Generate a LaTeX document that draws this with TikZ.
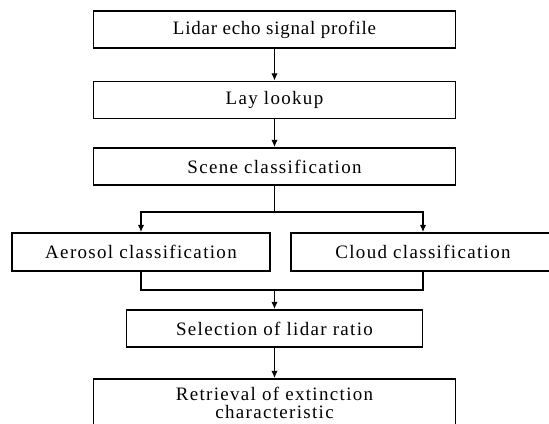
\documentclass[tikz,border=0pt]{standalone}
\usepackage{fontspec}
\setmainfont{Liberation Serif}
\newfontfamily\spacedfont[LetterSpace=7]{Liberation Serif}
\newfontfamily\narrowfont[LetterSpace=4]{Liberation Serif}
\usepackage{tikz}
\usetikzlibrary{arrows.meta,positioning}
\tikzstyle{stepbox} = [draw, line width=1.2pt, minimum height=0.925cm, inner sep=0pt, font=\fontsize{13.5}{14}\spacedfont]
\tikzstyle{arrow} = [-{Latex[length=1.8mm,width=1.6mm]}, line width=1pt]

\begin{document}
\begin{tikzpicture}
\useasboundingbox (0,0) rectangle (13.725,-10.6);
\node[stepbox, minimum width=9.05cm, font=\fontsize{13.5}{14}\narrowfont] at (6.8625,-0.7375) (echo) {Lidar echo signal profile};
\node[stepbox, minimum width=9.05cm] at (6.8625,-2.5) (lay) {Lay lookup};
\node[stepbox, minimum width=9.05cm] at (6.8625,-4.1625) (scene) {Scene classification};
\node[stepbox, minimum width=6.45cm, minimum height=0.95cm] at (3.525,-6.3) (aero) {Aerosol classification};
\node[stepbox, minimum width=6.6cm, minimum height=0.95cm] at (10.575,-6.3) (cloud) {Cloud classification};
\node[stepbox, minimum width=7.4cm] at (6.8625,-8.2125) (ratio) {Selection of lidar ratio};
\node[stepbox, minimum width=9.05cm, minimum height=1.2cm, align=center, font=\fontsize{13.5}{13}\spacedfont] at (6.8625,-10.075) (retr) {Retrieval of extinction\\characteristic};
\coordinate (split) at (6.8625,-5.3);
\coordinate (join) at (6.8625,-7.25);
\draw[arrow] (echo) -- (lay);
\draw[arrow] (lay) -- (scene);
\draw[line width=1pt] (scene) -- (split);
\draw[arrow] (split) -| (aero);
\draw[arrow] (split) -| (cloud);
\draw[line width=1pt] (aero) |- (join) -| (cloud);
\draw[arrow] (join) -- (ratio);
\draw[arrow] (ratio) -- (retr);
\end{tikzpicture}
\end{document}
